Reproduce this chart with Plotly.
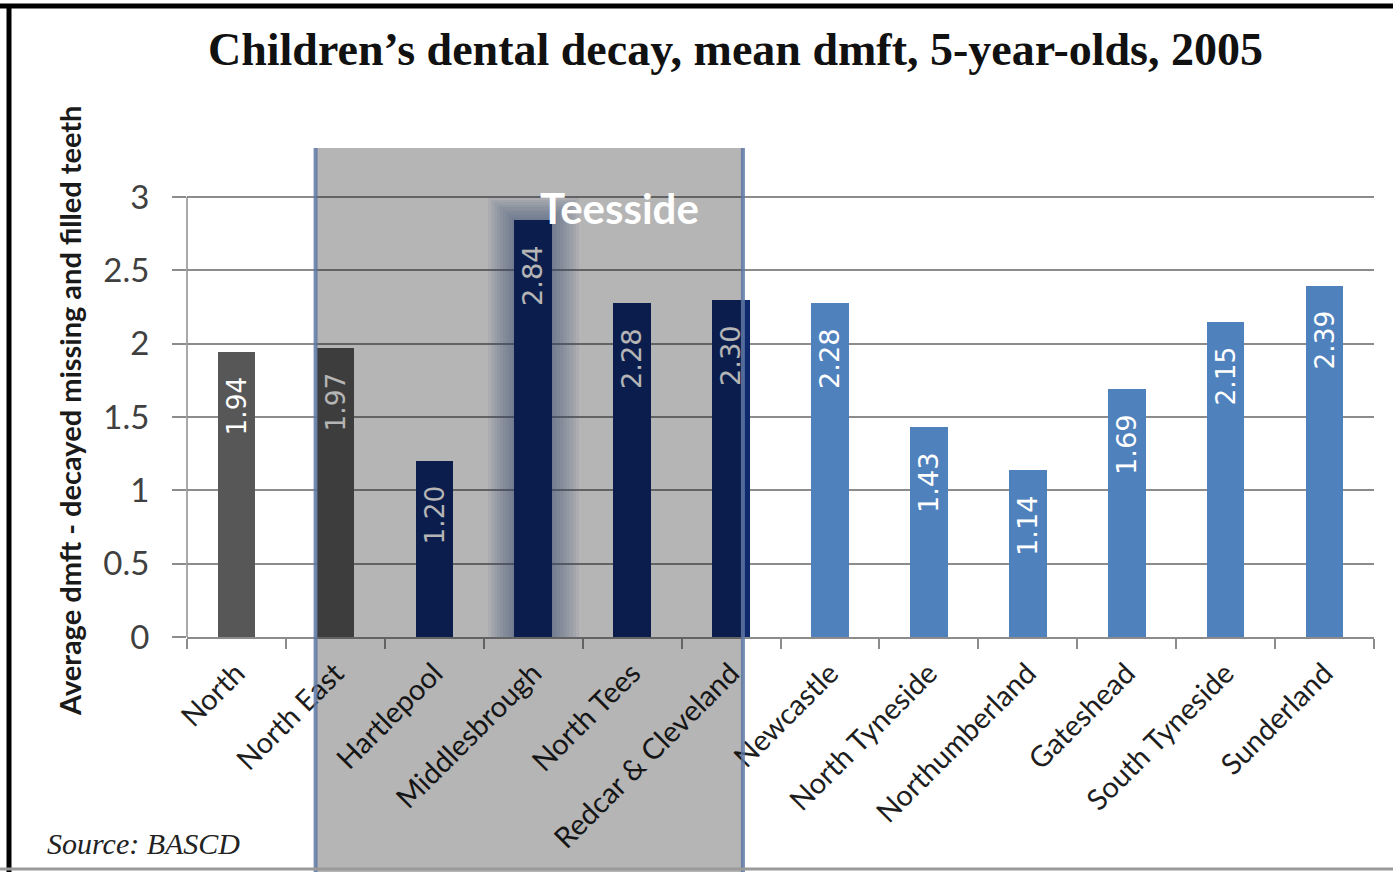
import plotly.graph_objects as go

# Mean dmft (decayed, missing and filled teeth) for 5-year-olds, 2005
areas = ["North", "North East", "Hartlepool", "Middlesbrough", "North Tees",
         "Redcar & Cleveland", "Newcastle", "North Tyneside", "Northumberland",
         "Gateshead", "South Tyneside", "Sunderland"]
dmft = [1.94, 1.97, 1.20, 2.84, 2.28, 2.30, 2.28, 1.43, 1.14, 1.69, 2.15, 2.39]
group = ["region", "region", "teesside", "teesside", "teesside", "teesside",
         "tyne", "tyne", "tyne", "tyne", "tyne", "tyne"]

teesside_areas = ["Hartlepool", "Middlesbrough", "North Tees", "Redcar & Cleveland"]
highlight_area = "Middlesbrough"

group_colors = {"region": "#575757", "teesside": "#0f2a6c", "tyne": "#4f81bd"}

W, H = 1393, 872
ML, MR, MT, MB = 187, 19, 148, 235
plot_w = W - ML - MR
plot_h = H - MT - MB
y_top = 3.334
n = len(areas)


def px_x(px):
    return (px - ML) / plot_w


def px_y(py):
    return (H - MB - py) / plot_h


def cat_paper(idx_float):
    return (idx_float + 0.5) / n


fig = go.Figure()

# soft glow behind the highlighted bar, built from stacked translucent layers
hi_val = dmft[areas.index(highlight_area)]
glow_layers = 9
for k in range(glow_layers):
    t = k / (glow_layers - 1)
    w = 0.92 - 0.5 * t
    pad = 0.16 - 0.14 * t
    fig.add_trace(go.Bar(
        x=[highlight_area], y=[hi_val + pad], width=w,
        marker=dict(color="rgba(75,105,155,0.07)", line=dict(width=0)),
        hoverinfo="skip", showlegend=False,
    ))

fig.add_trace(go.Bar(
    x=areas, y=dmft, width=0.38,
    marker=dict(color=[group_colors[g] for g in group], line=dict(width=0)),
    texttemplate="%{y:.2f}\u2002\u00a0",
    textposition="inside", insidetextanchor="end", textangle=-90,
    textfont=dict(family="DejaVu Sans", size=29, color="white"),
    cliponaxis=False, showlegend=False,
))

grid_col = "#8c8c8c"
fig.update_layout(
    width=W, height=H,
    margin=dict(l=ML, r=MR, t=MT, b=MB, pad=0),
    paper_bgcolor="white", plot_bgcolor="white",
    barmode="overlay", bargap=0,
    font=dict(family="Lato", color="#333333"),
    xaxis=dict(
        type="category", categoryorder="array", categoryarray=areas,
        range=[-0.5, n - 0.5], tickangle=-45, tickson="boundaries",
        ticks="outside", ticklen=10, tickcolor=grid_col, tickwidth=1.5,
        showline=True, linecolor=grid_col, linewidth=1.5, showgrid=False,
        ticklabelstandoff=6,
        tickfont=dict(family="Lato", size=29, color="#1e1e1e"),
    ),
    yaxis=dict(
        range=[0, y_top], tickmode="array",
        tickvals=[0, 0.5, 1, 1.5, 2, 2.5, 3],
        ticktext=["0", "0.5", "1", "1.5", "2", "2.5", "3"],
        ticks="outside", ticklen=14, tickcolor=grid_col, tickwidth=2,
        showgrid=True, gridcolor=grid_col, gridwidth=2,
        showline=False, zeroline=False, ticklabelstandoff=16,
        tickfont=dict(family="Lato", size=33, color="#404040"),
    ),
)

# vertical axis line running from 0 up to the top tick
fig.add_shape(type="line", xref="paper", yref="y", x0=0, x1=0, y0=0, y1=3,
              line=dict(color=grid_col, width=1.5), layer="below")

# Teesside band: translucent overlay spanning the four Teesside areas
i0 = areas.index(teesside_areas[0])
i1 = areas.index(teesside_areas[-1])
bx0 = cat_paper(i0 - 1.2)
bx1 = cat_paper(i1 + 0.12)
by0 = px_y(H)
fig.add_shape(type="rect", xref="paper", yref="paper",
              x0=bx0, x1=bx1, y0=by0, y1=1,
              fillcolor="rgba(0,0,0,0.29)", line=dict(width=0), layer="above")
for bx in (bx0, bx1):
    fig.add_shape(type="line", xref="paper", yref="paper",
                  x0=bx, x1=bx, y0=by0, y1=1,
                  line=dict(color="rgba(95,120,165,0.85)", width=4), layer="above")

# outer frame
fig.add_shape(type="line", xref="paper", yref="paper",
              x0=px_x(0), x1=px_x(W), y0=px_y(6), y1=px_y(6),
              line=dict(color="black", width=5), layer="above")
fig.add_shape(type="line", xref="paper", yref="paper",
              x0=px_x(9), x1=px_x(9), y0=px_y(4), y1=px_y(H),
              line=dict(color="black", width=5), layer="above")
fig.add_shape(type="line", xref="paper", yref="paper",
              x0=px_x(0), x1=px_x(W), y0=px_y(869), y1=px_y(869),
              line=dict(color="#9a9a9a", width=3), layer="above")

fig.add_annotation(
    text="<b>Children\u2019s dental decay, mean dmft, 5-year-olds, 2005</b>",
    xref="paper", yref="paper", x=px_x(735), y=px_y(50),
    xanchor="center", yanchor="middle", showarrow=False,
    font=dict(family="Liberation Serif", size=46, color="#111111"),
)
fig.add_annotation(
    text="<b>Average dmft - decayed missing and filled teeth</b>",
    xref="paper", yref="paper", x=px_x(70), y=px_y(411),
    xanchor="center", yanchor="middle", textangle=-90, showarrow=False,
    font=dict(family="Lato", size=29, color="#1a1a1a"),
)
fig.add_annotation(
    text="<b>Teesside</b>",
    xref="paper", yref="paper", x=px_x(619), y=px_y(208),
    xanchor="center", yanchor="middle", showarrow=False,
    font=dict(family="Lato", size=42, color="white"),
)
fig.add_annotation(
    text="<i>Source: BASCD</i>",
    xref="paper", yref="paper", x=px_x(45), y=px_y(843),
    xanchor="left", yanchor="middle", showarrow=False,
    font=dict(family="Liberation Serif", size=30, color="#222222"),
)

fig.write_html("out.html")
